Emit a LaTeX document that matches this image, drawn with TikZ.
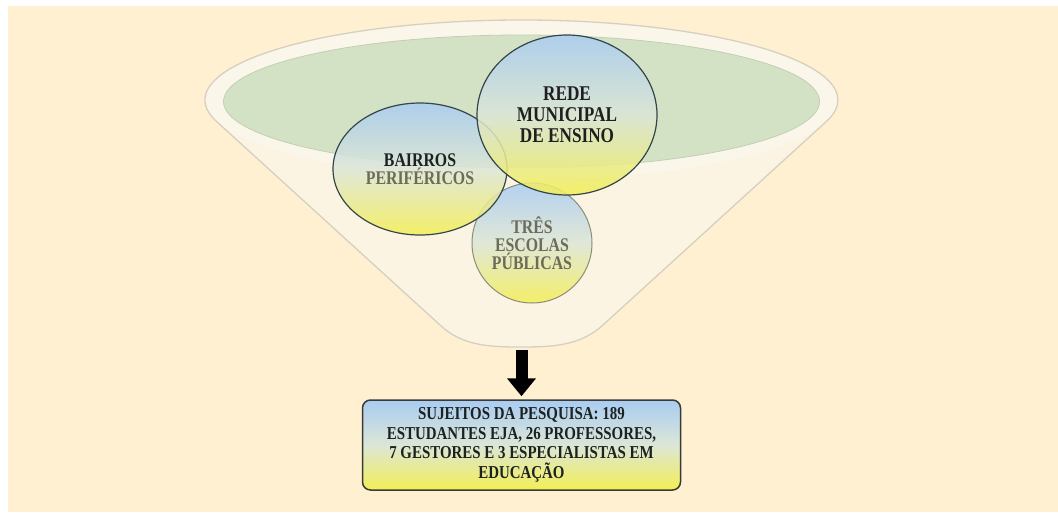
\documentclass[tikz,border=0pt]{standalone}
\usepackage{fontspec}
\setmainfont{Liberation Serif}[FakeStretch=0.82]
\usetikzlibrary{shapes.geometric,arrows.meta}
\definecolor{bgc}{HTML}{FEF0D0}
\definecolor{bodyc}{HTML}{FCF4E2}
\definecolor{bodyline}{HTML}{D6D0C2}
\definecolor{rimc}{HTML}{FBF6EA}
\definecolor{greenc}{HTML}{D3E2C4}
\definecolor{greenline}{HTML}{C2CFB4}
\definecolor{blueA}{HTML}{A9CCF2}
\definecolor{yellowA}{HTML}{F3EF55}
\definecolor{midA}{HTML}{DCE6D6}
\definecolor{circline}{HTML}{34464A}
\definecolor{tresline}{HTML}{8A8C7C}
\definecolor{boxline}{HTML}{3A3A3A}
\definecolor{textdark}{HTML}{1C2222}
\definecolor{textgray}{HTML}{6C6C58}
\tikzset{
  circ/.style={ellipse, inner sep=0pt, top color=blueA, bottom color=yellowA, middle color=midA,
    fill opacity=0.86, text opacity=1, draw=circline, line width=1.2pt, align=center,
    font=\fontsize{19.3}{18}\selectfont\bfseries, text=textdark},
  tres/.style={circ, draw=tresline, line width=1pt, text=textgray},
  resbox/.style={rectangle, rounded corners=8pt, draw=boxline, line width=1.5pt,
    top color=blueA, bottom color=yellowA, middle color=midA, align=center,
    minimum width=318pt, minimum height=90pt, inner sep=0pt, text=textdark,
    font=\fontsize{18.2}{19.5}\selectfont\bfseries},
  bigarrow/.style={line width=12pt, -{Triangle[width=28pt,length=18pt]}, shorten >=3pt, black}
}
\begin{document}
\begin{tikzpicture}[x=1pt,y=-1pt]
\useasboundingbox (0,0) rectangle (1058,512);
\fill[white] (0,0) rectangle (1058,512);
\fill[bgc] (8,6) rectangle (1058,512);
% funnel body (sides tangent to the rim ellipse)
\fill[bodyc] (216.5,121.4) -- (440,325) .. controls (462,346) and (490,347) .. (521,347)
  .. controls (552,347) and (580,346) .. (603,325) -- (826.5,121.4)
  arc[start angle=15.51, end angle=164.49, x radius=316.5, y radius=80] -- cycle;
\fill[rimc] (521.5,100) ellipse [x radius=316.5, y radius=80];
\draw[bodyline, line width=1.3pt] (216.5,121.4)
  arc[start angle=164.49, end angle=375.51, x radius=316.5, y radius=80]
  -- (603,325) .. controls (580,346) and (552,347) .. (521,347)
  .. controls (490,347) and (462,346) .. (440,325) -- cycle;
\fill[greenc, draw=greenline, line width=0.8pt] (521.5,101.5) ellipse [x radius=298, y radius=66.5];
% circles
\node[tres, minimum width=120pt, minimum height=120pt] (tres) at (532,243)
  {TRÊS\\ESCOLAS\\PÚBLICAS};
\node[circ, minimum width=174pt, minimum height=132pt] (bairros) at (420,169)
  {BAIRROS\\\color{textgray}PERIFÉRICOS};
\node[circ, minimum width=180pt, minimum height=160pt, font=\fontsize{21}{21}\selectfont\bfseries,
  text=black!88] (rede) at (567,115)
  {REDE\\MUNICIPAL\\DE ENSINO};
% result box
\node[resbox] (box) at (521.5,445)
  {SUJEITOS DA PESQUISA: 189\\ESTUDANTES EJA, 26 PROFESSORES,\\7 GESTORES E 3 ESPECIALISTAS EM\\EDUCAÇÃO};
\coordinate (fb) at (521.5,350);
\draw[bigarrow] (fb) -- (box.north);
\end{tikzpicture}
\end{document}
